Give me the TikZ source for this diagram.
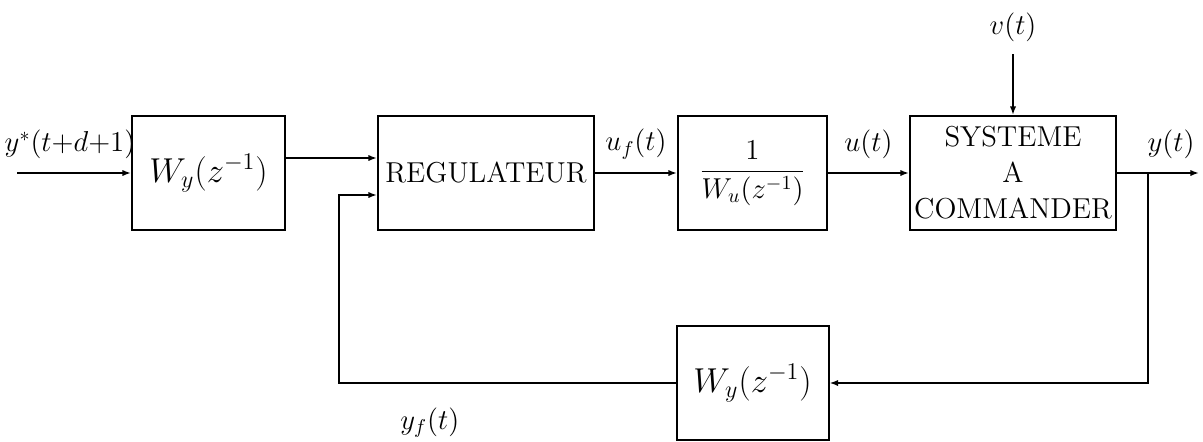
\documentclass[tikz,border=0pt]{standalone}
\usepackage{amsmath}
\usepackage{tikz}
\usetikzlibrary{positioning,arrows.meta,calc}
\tikzset{
  blk/.style={draw, line width=1pt, minimum height=57pt, font=\Large, align=center, inner sep=1pt},
  lbl/.style={font=\Large, inner sep=6.5pt},
  flow/.style={-{Latex[length=1.5mm,width=1.1mm]}, line width=0.9pt},
}

\begin{document}
\begin{tikzpicture}
\useasboundingbox (0,0) rectangle (601.5pt,-220.5pt);
\node[blk, font=\LARGE, minimum width=76.5pt] (wy) at (104.25pt,-86.5pt) {$W_y(z^{-1})$};
\node[blk, minimum width=108pt, right=45.5pt of wy] (reg) {REGULATEUR};
\node[blk, minimum width=74.5pt, right=41pt of reg] (wu) {$\dfrac{1}{W_u(z^{-1})}$};
\node[blk, minimum width=103pt, right=40.5pt of wu] (sys) {SYSTEME\\A\\COMMANDER};
\node[blk, font=\LARGE, minimum width=76pt, below=47pt of wu] (wyf) {$W_y(z^{-1})$};
\node[lbl, inner sep=6pt, above=30.5pt of sys] (vin) {$v(t)$};
% points on the wires
\coordinate[left=57pt of wy.west] (yin);
\coordinate (rin1) at ($(reg.west)+(0,7.5pt)$);
\coordinate (rin2) at ($(reg.west)+(0,-11pt)$);
\coordinate (fbc) at ($(rin2)+(-19pt,0)$);
\coordinate[right=41pt of sys.east] (yout);
\coordinate (br) at ($(sys.east)!0.38!(yout)$);
% forward path
\draw[flow] (yin) -- (wy) node[lbl, midway, above, xshift=-2pt] {$y^*(t{+}d{+}1)$};
\draw[flow] (wy.east |- rin1) -- (rin1);
\draw[flow] (reg) -- (wu) node[lbl, midway, above] {$u_f(t)$};
\draw[flow] (wu) -- (sys) node[lbl, midway, above] {$u(t)$};
\draw[flow] (sys) -- (yout) node[lbl, pos=0.66, above] {$y(t)$};
\draw[flow] (vin) -- (sys);
% feedback path
\draw[flow] (br) |- (wyf);
\draw[flow] (wyf) -| node[lbl, pos=0.365, below, yshift=-5.5pt] {$y_f(t)$} (fbc) -- (rin2);
\end{tikzpicture}
\end{document}
